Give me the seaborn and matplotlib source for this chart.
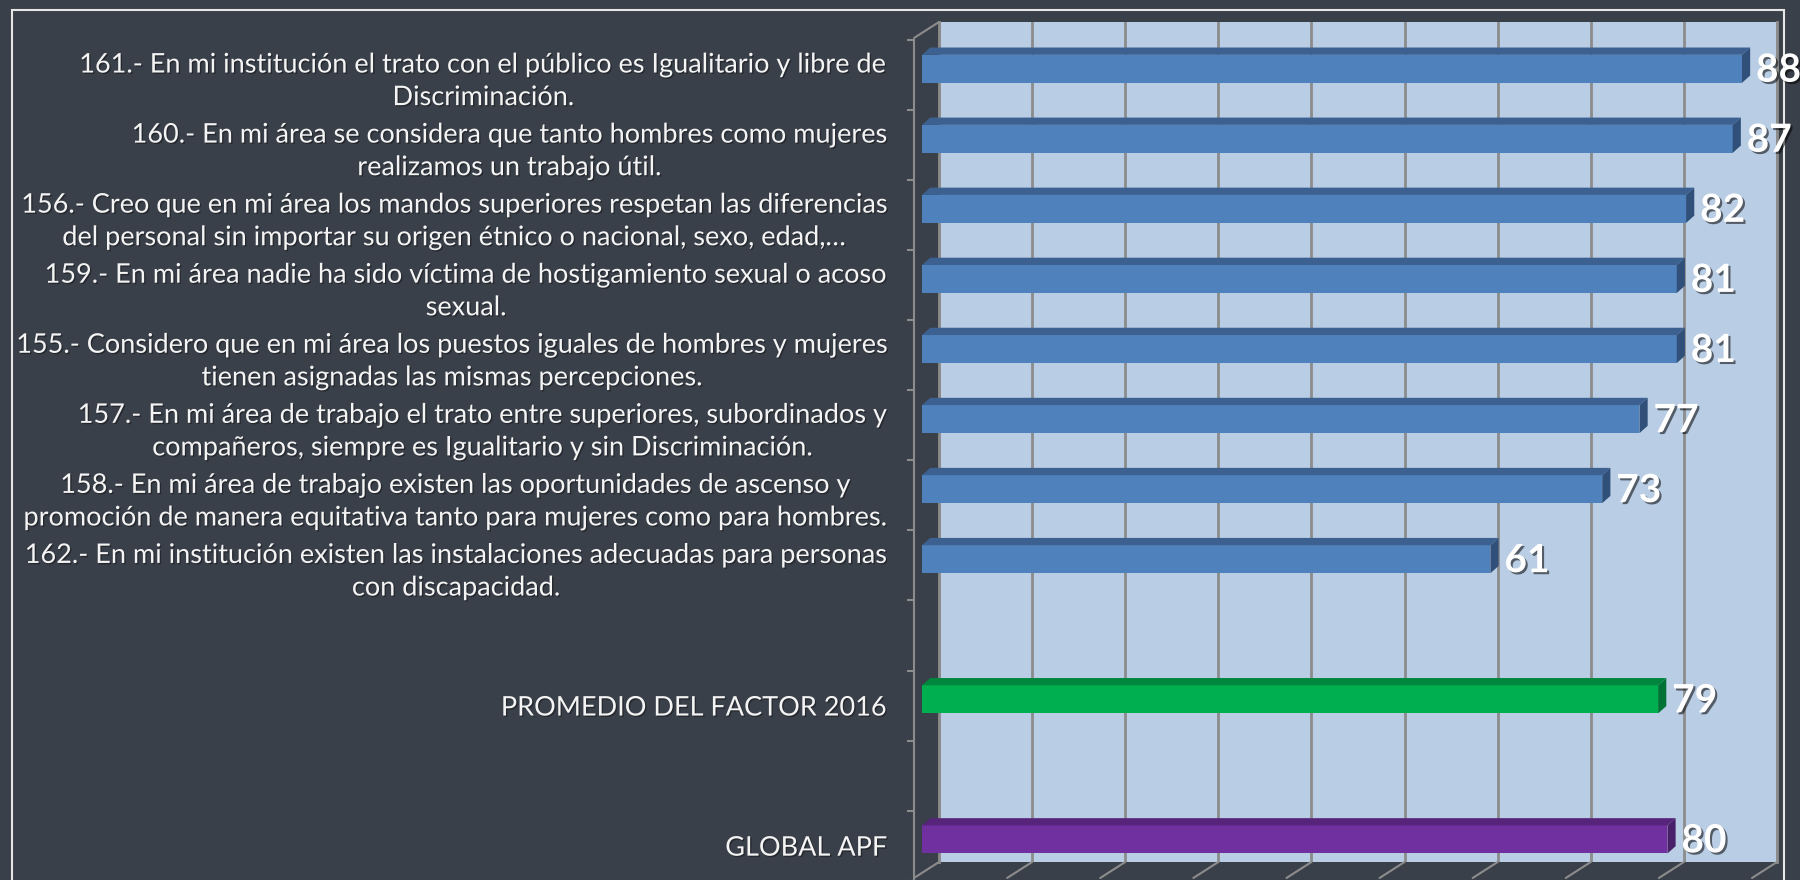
import matplotlib
matplotlib.use('Agg')
import matplotlib.pyplot as plt
import matplotlib.patheffects as pe
from matplotlib.patches import Polygon, Rectangle
from matplotlib.lines import Line2D
import numpy as np
import pandas as pd
import seaborn as sns

# Data
labels = [
    '161.- En mi institución el trato con el público es Igualitario y libre de\nDiscriminación.',
    '160.- En mi área se considera que tanto hombres como mujeres\nrealizamos un trabajo útil.',
    '156.- Creo que en mi área los mandos superiores respetan las diferencias\ndel personal sin importar su origen étnico o nacional, sexo, edad,…',
    '159.- En mi área nadie ha sido víctima de hostigamiento sexual o acoso\nsexual.',
    '155.- Considero que en mi área los puestos iguales de hombres y mujeres\ntienen asignadas las mismas percepciones.',
    '157.- En mi área de trabajo el trato entre superiores, subordinados y\ncompañeros, siempre es Igualitario y sin Discriminación.',
    '158.- En mi área de trabajo existen las oportunidades de ascenso y\npromoción de manera equitativa tanto para mujeres como para hombres.',
    '162.- En mi institución existen las instalaciones adecuadas para personas\ncon discapacidad.',
    'PROMEDIO DEL FACTOR 2016',
    'GLOBAL APF',
]
values = [88, 87, 82, 81, 81, 77, 73, 61, 79, 80]
groups = ['item'] * 8 + ['promedio', 'global']
# empty category slots between the items and the two summary bars
slot_order = labels[:8] + [' '] + [labels[8]] + ['  '] + [labels[9]]

df = pd.DataFrame({'label': labels, 'value': values, 'group': groups})
df['slot'] = [slot_order.index(l) for l in df['label']]

W, H = 1800, 880
BG = '#3a4049'
WALL = '#b9cde5'
GRID = '#8c8c8c'
front_colors = {'item': '#4f81bd', 'promedio': '#00b050', 'global': '#7030a0'}
top_colors = {'item': '#3c6190', 'promedio': '#00873d', 'global': '#57247c'}
side_colors = {'item': '#30507a', 'promedio': '#007233', 'global': '#4a1f69'}

sns.set_theme(style='white')
plt.rcParams['font.family'] = ['Lato', 'DejaVu Sans']

fig = plt.figure(figsize=(18, 8.8), dpi=100, facecolor=BG)


def px_axes(left, top, right, bottom):
    return fig.add_axes([left / W, 1 - bottom / H, (right - left) / W, (bottom - top) / H])


# back wall with gridlines
ax_wall = px_axes(939, 22, 1777, 862)
ax_wall.set_facecolor(WALL)
ax_wall.set_xlim(0, 90)
ax_wall.set_ylim(0, 1)
ax_wall.set_xticks(range(0, 91, 10))
ax_wall.set_yticks([])
ax_wall.tick_params(axis='x', length=0, labelbottom=False)
ax_wall.grid(axis='x', color=GRID, lw=2)
for s in ['top', 'bottom']:
    ax_wall.spines[s].set_visible(False)
for s in ['left', 'right']:
    ax_wall.spines[s].set_color(GRID)
    ax_wall.spines[s].set_linewidth(2)
# floor lines
for xv in range(0, 91, 10):
    ax_wall.add_line(Line2D([xv, xv - 25 / 9.31], [0, -16 / 840], color=GRID,
                            lw=1.5, clip_on=False))

# bars (front faces)
ax = px_axes(922, 33.8, 1760.6, 874.5)
ax.patch.set_alpha(0)
sns.barplot(data=df, x='value', y='label', hue='group', order=slot_order,
            palette=front_colors, orient='h', width=0.4, dodge=False,
            saturation=1, legend=False, linewidth=0, ax=ax)
ax.set_xlim(0, 90)
ax.set_ylim(11.5, -0.5)
ax.axis('off')

px_x = (1760.6 - 922) / 90
px_y = (874.5 - 33.8) / 12
ddx = 8.2 / px_x
ddy = -7.3 / px_y
hw = 0.2
for _, r in df.iterrows():
    c, v, g = r['slot'], r['value'], r['group']
    top = Polygon([(0, c - hw), (v, c - hw), (v + ddx, c - hw + ddy), (ddx, c - hw + ddy)],
                  closed=True, fc=top_colors[g], ec='none', clip_on=False)
    side = Polygon([(v, c - hw), (v, c + hw), (v + ddx, c + hw + ddy), (v + ddx, c - hw + ddy)],
                   closed=True, fc=side_colors[g], ec='none', clip_on=False)
    ax.add_patch(top)
    ax.add_patch(side)
    ax.text(v + 14 / px_x, c + 0.02, str(v), ha='left', va='center', fontsize=28,
            fontweight='bold', color='white', clip_on=False,
            path_effects=[pe.withSimplePatchShadow(offset=(1.5, -1.5),
                                                   shadow_rgbFace='black', alpha=0.55)])

# front category axis with labels
ax_front = px_axes(914, 40, 915, 880.7)
ax_front.patch.set_alpha(0)
ax_front.set_ylim(11.5, -0.5)
ax_front.set_xticks([])
ax_front.set_yticks(range(len(slot_order)))
ax_front.set_yticklabels([s.strip() for s in slot_order])
ax_front.set_yticks(np.arange(-0.5, len(slot_order), 1), minor=True)
ax_front.tick_params(axis='y', which='major', length=0, pad=19, labelsize=19.5,
                     labelcolor='#f4f4f4')
ax_front.tick_params(axis='y', which='minor', length=5, width=1.5, color=GRID,
                     direction='out', left=True)
for s in ['top', 'right', 'bottom']:
    ax_front.spines[s].set_visible(False)
ax_front.spines['left'].set_color(GRID)
ax_front.spines['left'].set_linewidth(1.5)
for t in ax_front.get_yticklabels():
    t.set_multialignment('center')
    t.set_linespacing(1.38)
    t.set_path_effects([pe.withSimplePatchShadow(offset=(1, -1), shadow_rgbFace='black',
                                                 alpha=0.35)])

# top-left depth edge of the chart box
fig.add_artist(Line2D([914 / W, 939 / W], [1 - 38 / H, 1 - 22 / H], color=GRID, lw=1.5,
                      transform=fig.transFigure))

# outer frame
fig.add_artist(Rectangle((12 / W, -0.05), (1784 - 12) / W, 1.05 - 10 / H, fill=False,
                         ec='#e6e6e6', lw=1.5, transform=fig.transFigure, zorder=-1))

fig.savefig('out.png', dpi=100, facecolor=BG)
